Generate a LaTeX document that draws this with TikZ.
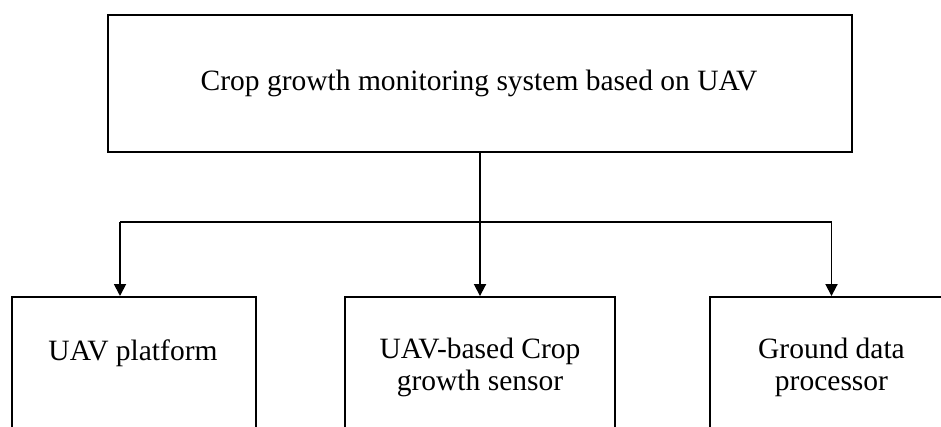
\documentclass[tikz,border=0pt]{standalone}
\usepackage{fontspec}
\setmainfont{Liberation Serif}
\usetikzlibrary{arrows.meta}
\begin{document}
\begin{tikzpicture}[x=1pt,y=-1pt,
  box/.style={draw=black, line width=1.9pt, inner sep=0pt},
  lbl/.style={font=\fontsize{29.5}{32}\selectfont, align=center, inner sep=0pt},
  conn/.style={draw=black, line width=1.8pt},
  arr/.style={conn, -{Triangle[length=12pt,width=12pt]}}]
\useasboundingbox (0,0) rectangle (941,426);
\clip (0,0) rectangle (941,426);
\fill[white] (0,0) rectangle (941,426);
% boxes
\node[box, minimum width=744pt, minimum height=137pt] (top) at (480,83.5) {};
\node[box, minimum width=244pt, minimum height=180pt] (lb) at (134,387) {};
\node[box, minimum width=270pt, minimum height=180pt] (mb) at (480,387) {};
\node[box, minimum width=243pt, minimum height=180pt] (rb) at (831.5,387) {};
% labels
\node[lbl] (tt) at (479,83) {Crop growth monitoring system based on UAV};
\node[lbl] (lt) at (133,353) {UAV platform};
\node[lbl] (mt) at (480,367) {UAV-based Crop\\growth sensor};
\node[lbl] (rt) at (831.5,367) {Ground data\\processor};
% connectors
\coordinate (jl) at (120,222);
\coordinate (jm) at (480,222);
\coordinate (la) at (120,296);
\draw[arr] (top.south) -- (mb.north);
\draw[conn] (jm) -- (jl);
\draw[arr] (jl) -- (la);
\draw[arr] (jm) -| (rb.north);
\end{tikzpicture}
\end{document}
